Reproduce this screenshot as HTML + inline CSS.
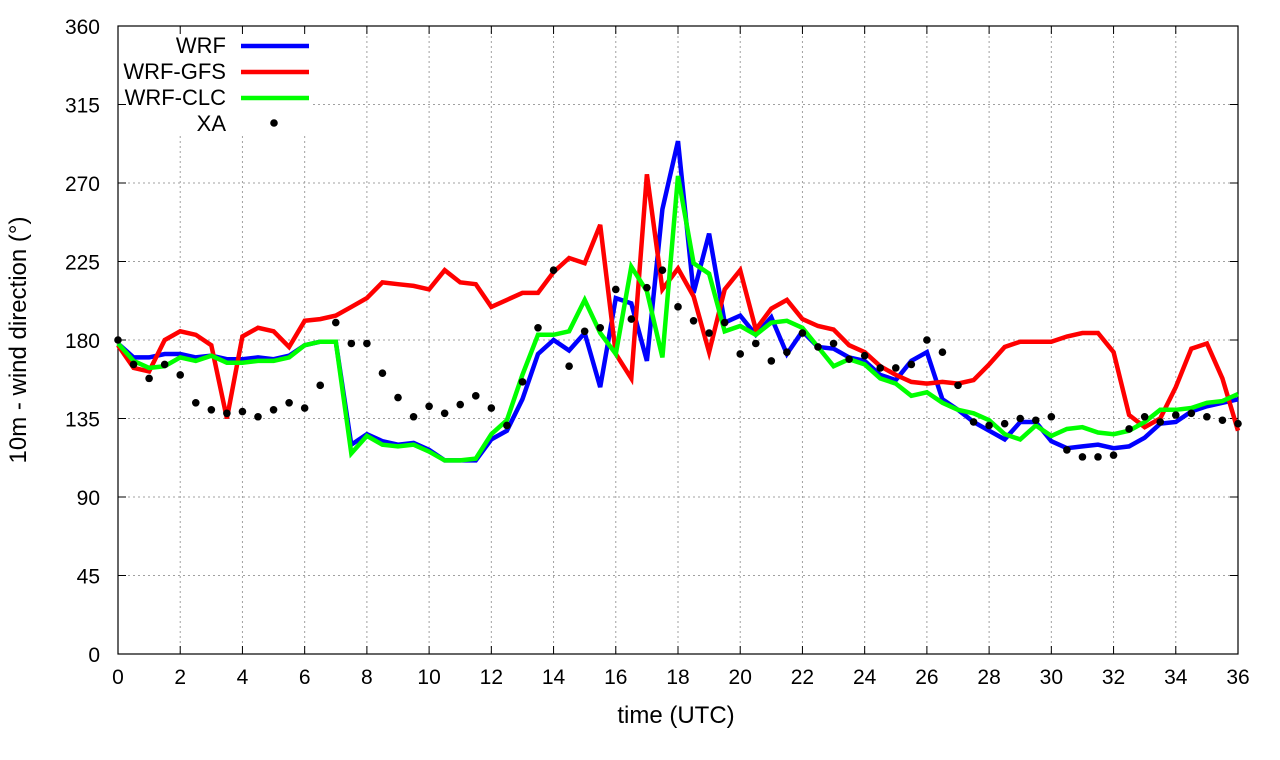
<!DOCTYPE html>
<html><head><meta charset="utf-8"><style>
html,body{margin:0;padding:0;background:#fff;}
svg{display:block;font-family:"Liberation Sans",sans-serif;}
</style></head><body>
<svg id="chart" width="1280" height="760" viewBox="0 0 1280 760"></svg>
<script>
const times = [];
for (let i = 0; i <= 72; i++) times.push(i * 0.5);
const wrf = [178,170,170,172,172,170,171,169,169,170,169,171,177,179,179,120,126,122,120,121,117,111,111,111,123,128,146,172,180,174,184,153,204,201,168,255,294,207,241,190,194,183,193,172,185,176,175,170,168,160,157,168,173,146,140,133,128,123,133,133,122,118,119,120,118,119,124,132,133,139,142,144,146];
const wrfGfs = [177,164,162,180,185,183,177,135,182,187,185,176,191,192,194,199,204,213,212,211,209,220,213,212,199,203,207,207,219,227,224,246,172,158,275,209,221,205,173,209,220,186,198,203,192,188,186,177,173,165,160,156,155,156,155,157,166,176,179,179,179,182,184,184,173,137,130,135,153,175,178,158,128];
const wrfClc = [178,168,164,165,170,168,171,167,167,168,168,170,177,179,179,115,125,120,119,120,116,111,111,112,126,134,160,183,183,185,203,184,172,222,208,170,274,224,218,185,188,183,190,191,187,176,165,169,166,158,155,148,150,144,140,138,134,126,123,131,125,129,130,127,126,128,133,140,140,141,144,145,149];
const xa = [180,166,158,166,160,144,140,138,139,136,140,144,141,154,190,178,178,161,147,136,142,138,143,148,141,131,156,187,220,165,185,187,209,192,210,220,199,191,184,190,172,178,168,173,184,176,178,169,171,164,164,166,180,173,154,133,131,132,135,134,136,117,113,113,114,129,136,133,137,138,136,134,132];
const xTicks = [0,2,4,6,8,10,12,14,16,18,20,22,24,26,28,30,32,34,36];
const yTicks = [0,45,90,135,180,225,270,315,360];

const NS = "http://www.w3.org/2000/svg";
const svg = document.getElementById("chart");
const L = 118, R = 1238, T = 26, B = 654;
const xs = t => L + (t / 36) * (R - L);
const ys = v => B - (v / 360) * (B - T);
function mk(tag, attrs, parent) {
  const e = document.createElementNS(NS, tag);
  for (const k in attrs) e.setAttribute(k, attrs[k]);
  (parent || svg).appendChild(e);
  return e;
}
const grid = mk("g", {});


xTicks.forEach(t => {
  if (t > 0 && t < 36) mk("line", {x1: xs(t), x2: xs(t), y1: T, y2: B, stroke: "#a0a0a0", "stroke-width": 1, "stroke-dasharray": "2,3"}, grid);
});
yTicks.forEach(v => {
  if (v > 0 && v < 360) mk("line", {x1: L, x2: R, y1: ys(v), y2: ys(v), stroke: "#a0a0a0", "stroke-width": 1, "stroke-dasharray": "2,3"}, grid);
});
// legend background (covers grid only)
mk("rect", {x: 112, y: 30, width: 200, height: 106, fill: "#fff"});

xTicks.forEach(t => {
  mk("line", {x1: xs(t), x2: xs(t), y1: B, y2: B - 8, stroke: "#000"});
  mk("line", {x1: xs(t), x2: xs(t), y1: T, y2: T + 8, stroke: "#000"});
  const tx = mk("text", {x: xs(t), y: B + 30, "text-anchor": "middle", "font-size": 21});
  tx.textContent = t;
  
  
});
yTicks.forEach(v => {
  mk("line", {x1: L, x2: L + 8, y1: ys(v), y2: ys(v), stroke: "#000"});
  mk("line", {x1: R, x2: R - 8, y1: ys(v), y2: ys(v), stroke: "#000"});
  const tx = mk("text", {x: L - 18, y: ys(v) + 8, "text-anchor": "end", "font-size": 21});
  tx.textContent = v;
  
  
});
const frame = mk("rect", {x: L, y: T, width: R - L, height: B - T, fill: "none", stroke: "#000", "stroke-width": 1.2});



function series(vals, color, name) {
  const pts = vals.map((v, i) => xs(times[i]).toFixed(1) + "," + ys(v).toFixed(1)).join(" ");
  const p = mk("polyline", {points: pts, fill: "none", stroke: color, "stroke-width": 4.5, "stroke-linejoin": "miter"});
  
  
}
series(wrf, "#0000ff", "wrf-line");
series(wrfGfs, "#ff0000", "wrf-gfs-line");
series(wrfClc, "#00ff00", "wrf-clc-line");
const pg = mk("g", {});


xa.forEach((v, i) => {
  const c = mk("circle", {cx: xs(times[i]), cy: ys(v), r: 3.8, fill: "#000"}, pg);
  
  
});

const legend = [["WRF", "#0000ff"], ["WRF-GFS", "#ff0000"], ["WRF-CLC", "#00ff00"], ["XA", null]];
legend.forEach((d, i) => {
  const y = 45 + i * 26;
  const g = mk("g", {});
  
  
  const tx = mk("text", {x: 226, y: y + 8, "text-anchor": "end", "font-size": 22}, g);
  tx.textContent = d[0];
  if (d[1]) mk("line", {x1: 241, x2: 309, y1: y + 1, y2: y + 1, stroke: d[1], "stroke-width": 4.5}, g);
  else mk("circle", {cx: 274, cy: y, r: 3.8, fill: "#000"}, g);
});

const xt = mk("text", {x: 676, y: 723, "text-anchor": "middle", "font-size": 24});
xt.textContent = "time (UTC)";


const yt = mk("text", {x: 0, y: 0, "text-anchor": "middle", "font-size": 24, transform: "translate(26,340) rotate(-90)"});
yt.textContent = "10m - wind direction (°)";


</script>
</body></html>
